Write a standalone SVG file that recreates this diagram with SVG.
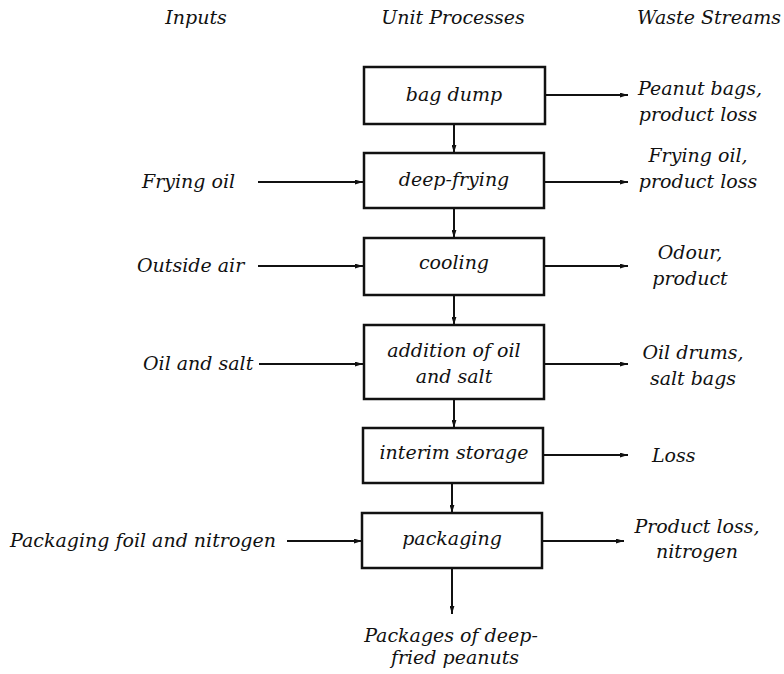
<svg xmlns="http://www.w3.org/2000/svg" width="784" height="674" viewBox="0 0 784 674">
<style>
text{font-family:"DejaVu Serif",serif;font-style:italic;font-size:19px;fill:#111;}
.m{text-anchor:middle}
.box{fill:#fff;stroke:#111;stroke-width:2.5}
.ln{stroke:#111;stroke-width:2;fill:none;marker-end:url(#ah)}
</style>
<defs>
<marker id="ah" viewBox="0 0 10 6" refX="10" refY="3" markerWidth="8" markerHeight="5" markerUnits="userSpaceOnUse" orient="auto">
<path d="M0,0 L10,3 L0,6 z" fill="#111"/>
</marker>
</defs>
<rect width="784" height="674" fill="#fff"/>
<g id="headers">
<text class="m" x="196" y="24">Inputs</text>
<text class="m" x="453" y="24">Unit Processes</text>
<text x="781" y="24" text-anchor="end">Waste Streams</text>
</g>
<g id="connectors">
<line class="ln" x1="454" y1="124" x2="454" y2="153"/>
<line class="ln" x1="454" y1="208" x2="454" y2="238"/>
<line class="ln" x1="454" y1="295" x2="454" y2="325"/>
<line class="ln" x1="454" y1="399" x2="454" y2="428"/>
<line class="ln" x1="452" y1="483" x2="452" y2="513"/>
<line class="ln" x1="452" y1="568" x2="452" y2="614"/>
<line class="ln" x1="545" y1="95" x2="628" y2="95"/>
<line class="ln" x1="544" y1="182" x2="628" y2="182"/>
<line class="ln" x1="544" y1="266" x2="628" y2="266"/>
<line class="ln" x1="544" y1="364" x2="628" y2="364"/>
<line class="ln" x1="543" y1="455" x2="628" y2="455"/>
<line class="ln" x1="542" y1="541" x2="624" y2="541"/>
<line class="ln" x1="258" y1="182" x2="363" y2="182"/>
<line class="ln" x1="258" y1="266" x2="363" y2="266"/>
<line class="ln" x1="259" y1="364" x2="363" y2="364"/>
<line class="ln" x1="287" y1="541" x2="362" y2="541"/>
</g>
<g id="bag-dump"><rect class="box" x="364" y="67" width="181" height="57"/><text class="m" x="454" y="101">bag dump</text></g>
<g id="deep-frying"><rect class="box" x="364" y="153" width="180" height="55"/><text class="m" x="454" y="186">deep-frying</text></g>
<g id="cooling"><rect class="box" x="364" y="238" width="180" height="57"/><text class="m" x="454" y="269">cooling</text></g>
<g id="addition"><rect class="box" x="364" y="325" width="180" height="74"/><text class="m" x="454" y="357">addition of oil</text><text class="m" x="454" y="383">and salt</text></g>
<g id="interim-storage"><rect class="box" x="363" y="428" width="180" height="55"/><text class="m" x="454" y="459">interim storage</text></g>
<g id="packaging"><rect class="box" x="362" y="513" width="180" height="55"/><text class="m" x="452" y="545">packaging</text></g>
<g id="inputs">
<text x="142" y="188">Frying oil</text>
<text x="137" y="272">Outside air</text>
<text x="143" y="370">Oil and salt</text>
<text x="10" y="547">Packaging foil and nitrogen</text>
</g>
<g id="wastes">
<text class="m" x="700" y="95">Peanut bags,</text>
<text class="m" x="698" y="121">product loss</text>
<text class="m" x="698" y="162">Frying oil,</text>
<text class="m" x="698" y="188">product loss</text>
<text class="m" x="690" y="259">Odour,</text>
<text class="m" x="690" y="285">product</text>
<text class="m" x="693" y="359">Oil drums,</text>
<text class="m" x="693" y="385">salt bags</text>
<text x="652" y="462">Loss</text>
<text class="m" x="697" y="533">Product loss,</text>
<text class="m" x="697" y="558">nitrogen</text>
</g>
<g id="output">
<text class="m" x="451" y="642">Packages of deep-</text>
<text class="m" x="455" y="664">fried peanuts</text>
</g>
</svg>
